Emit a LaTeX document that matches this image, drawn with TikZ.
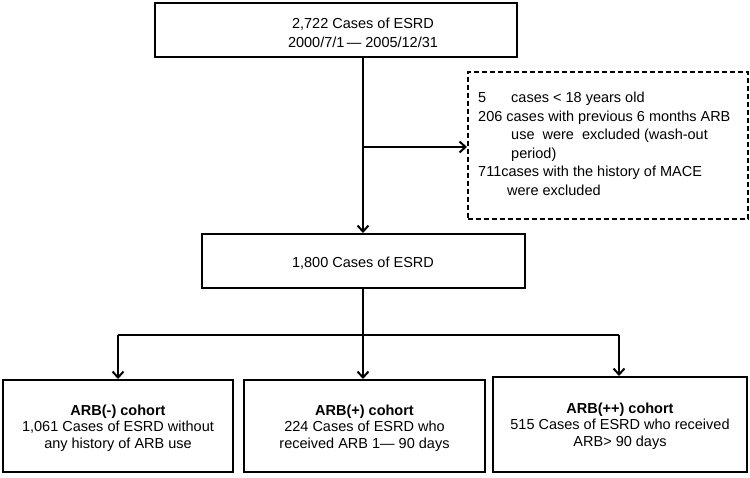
\documentclass[tikz,border=0pt]{standalone}
\usepackage{fontspec}
\setmainfont{Liberation Sans}
\usetikzlibrary{arrows.meta}
\begin{document}
\begin{tikzpicture}[x=1pt,y=-1pt,
  font=\fontsize{14.5}{18.5}\selectfont,
  boxline/.style={draw=black, line width=2pt, rectangle, inner sep=0pt},
  dashbox/.style={draw=black, line width=2pt, dash pattern=on 5pt off 3pt, rectangle, inner sep=0pt},
  txt/.style={align=center, inner sep=0pt},
  cohort/.style={align=center, inner sep=0pt, font=\fontsize{14.5}{16.5}\selectfont},
  conn/.style={line width=2pt},
  arr/.style={line width=2pt, -{Straight Barb[length=6pt,width=11pt,line width=2pt]}}]
\useasboundingbox (0,0) rectangle (750,477);
% top box
\node[boxline, minimum width=362pt, minimum height=54pt] (top) at (336,30) {};
\node[txt] (toptext) at (363,33) {2,722 Cases of ESRD\\2000/7/1\,\textemdash\ 2005/12/31};
% dashed exclusion box
\node[dashbox, minimum width=280pt, minimum height=147pt] (excl) at (608,145) {};
\node[align=left, inner sep=0pt, anchor=north west] (excltext) at (478,92)
 {\makebox[33pt][l]{5}cases < 18 years old\\
  206 cases with previous 6 months ARB\\
  \hspace*{33pt}use\ \ were\ \ excluded (wash-out\\
  \hspace*{33pt}period)\\
  711cases with the history of MACE\\
  \hspace*{29pt}were excluded};
% middle box
\node[boxline, minimum width=323pt, minimum height=54pt] (mid) at (363,261) {};
\node[txt] (midtext) at (363,263) {1,800 Cases of ESRD};
% bottom boxes
\node[boxline, minimum width=230pt, minimum height=92pt] (b1) at (118,426) {};
\node[cohort] (b1text) at (118,428) {\textbf{ARB(-) cohort}\\1,061 Cases of ESRD without\\any history of ARB use};
\node[boxline, minimum width=241pt, minimum height=92pt] (b2) at (364.5,426) {};
\node[cohort] (b2text) at (364.5,428) {\textbf{ARB(+) cohort}\\224 Cases of ESRD who\\received ARB 1\textemdash\ 90 days};
\node[boxline, minimum width=254pt, minimum height=95pt] (b3) at (620,424.5) {};
\node[cohort] (b3text) at (620,426) {\textbf{ARB(++) cohort}\\515 Cases of ESRD who received\\ARB> 90 days};
% connectors
\coordinate (j1) at (363,147);
\coordinate (j2) at (363,335);
\coordinate (jl) at (118,335);
\coordinate (jr) at (619,335);
\draw[arr] (toptext |- top.south) -- (toptext |- mid.north);
\draw[arr] (j1) -- (excl.west |- j1);
\draw[conn] (midtext |- mid.south) -- (j2);
\draw[conn] (jl) -- (jr);
\draw[arr] (jl) -- (jl |- b1.north);
\draw[arr] (j2) -- (b2.north -| j2);
\draw[arr] (jr) -- (jr |- b3.north);
\end{tikzpicture}
\end{document}
